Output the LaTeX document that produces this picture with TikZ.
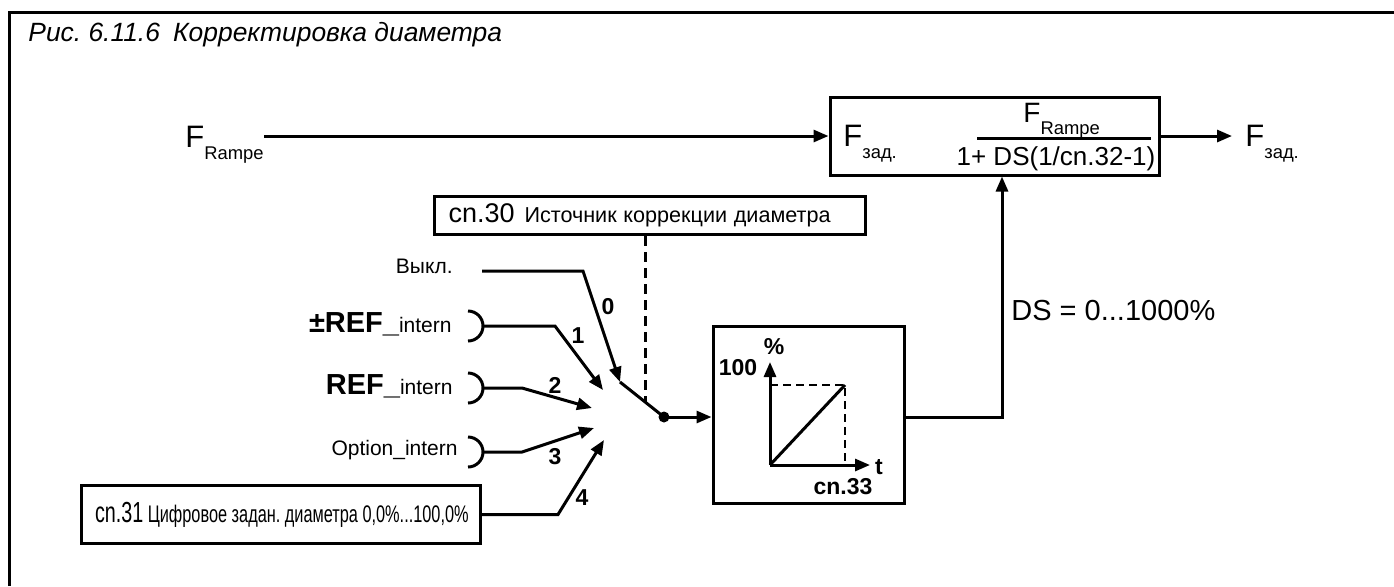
\documentclass[tikz,border=0pt]{standalone}
\usepackage{fontspec}
\setmainfont{Liberation Sans}
\usetikzlibrary{arrows.meta,positioning,calc}
\frenchspacing
\newcommand\dcsub[2]{#1\raisebox{-6pt}{\fontsize{9.2}{10}\selectfont #2}}
\newcommand\dcbigfont{\bfseries\fontsize{14.5}{16}\selectfont}
\tikzset{
  dcbox/.style={draw=black, line width=1.5pt, inner sep=0pt},
  dcedge/.style={-{Triangle[length=7.5pt,width=6pt]}, line width=1.5pt},
  dcwire/.style={line width=1.5pt},
  dcguide/.style={line width=1.5pt, dash pattern=on 5pt off 3pt},
  dcgrid/.style={line width=0.6pt, dash pattern=on 4pt off 2.5pt},
  dcsig/.style={font=\fontsize{15.5}{18}\selectfont, inner sep=0pt},
  dctext/.style={font=\fontsize{10.5}{12}\selectfont, inner sep=0pt},
  dcnum/.style={font=\bfseries\fontsize{11.5}{13}\selectfont, inner sep=0pt}
}

\begin{document}
\begin{tikzpicture}[x=0.5pt,y=-0.5pt]
  \useasboundingbox (0,0) rectangle (1394,586);
  % frame and title
  \draw[dcwire] (9,586) -- (9,12) -- (1394,12);
  \node[anchor=base west,inner sep=0pt,font=\itshape\fontsize{13.2}{15}\selectfont] (title) at (28,41)
    {Рис. 6.11.6\enspace Корректировка диаметра};

  % divider block
  \node[dcbox,minimum width=164.5pt,minimum height=39pt] (div) at (994.5,136) {};
  \node[dcsig,anchor=base west] (fset) at (843,146) {\dcsub{F}{зад.}};
  \node[anchor=base west,inner sep=0pt,font=\fontsize{14}{16}\selectfont] (num) at (1023,122) {\dcsub{F}{Rampe}};
  \node[anchor=base,inner sep=0pt,font=\fontsize{13}{15}\selectfont] (den) at (1056,165) {1+ DS(1/cn.32-1)};
  \draw[dcwire] (977,138) -- (1151,138);
  \node[dcsig,anchor=base east] (fin) at (264,147) {\dcsub{F}{Rampe}};
  \node[dcsig,anchor=base west,inner xsep=6.5pt] (fout) at (1232,146) {\dcsub{F}{зад.}};
  \draw[dcedge] (fin.east |- div.west) -- (div.west);
  \draw[dcedge] (div.east) -- (div.east -| fout.west);

  % source selector
  \node[dcbox,minimum height=19pt,text width=201.5pt,inner xsep=7pt,align=left,anchor=north west] (cp30) at (433,195)
    {{\fontsize{13.5}{14}\selectfont cn.30}\enspace{\fontsize{10.8}{13}\selectfont Источник коррекции диаметра}};
  \coordinate (guide) at (645,402);
  \draw[dcguide] (cp30.south -| guide) -- (guide);

  \node[dctext,anchor=base east] (off) at (453,273) {Выкл.};
  \node[dctext,anchor=base east] (pref) at (452,332) {{\dcbigfont ±REF\_}intern};
  \node[dctext,anchor=base east] (ref) at (453,394) {{\dcbigfont REF\_}intern};
  \node[dctext,anchor=base east] (opt) at (458,455) {Option\_intern};
  \node[dcbox,minimum height=29pt,text width=186pt,inner xsep=6.75pt,align=left,anchor=north west] (cp31) at (80,484)
    {\scalebox{0.68}[1]{{\fontsize{14.5}{16}\selectfont cn.31} {\fontsize{12}{14}\selectfont Цифровое задан. диаметра 0,0\%...100,0\%}}};

  \coordinate (a0) at (482,271);
  \foreach \y/\n in {326/1,388/2,452/3} {
    \draw[dcwire] (468,\y-15) arc[start angle=90,end angle=-90,radius=7.5pt];
    \coordinate (a\n) at (483,\y);
  }
  \coordinate (k0) at (620,382);
  \coordinate (k1) at (603,390);
  \coordinate (k2) at (592,408);
  \coordinate (k3) at (594,428);
  \coordinate (k4) at (604,440);
  \draw[dcedge] (a0) -- ++(101,0) -- (k0);
  \draw[dcedge] (a1) -- ++(72,0) -- (k1);
  \draw[dcedge] (a2) -- ++(39,0) -- (k2);
  \draw[dcedge] (a3) -- ++(39,0) -- (k3);
  \draw[dcedge] (cp31.east) -- ++(76,0) -- (k4);
  \node[dcnum] (n0) at (608,307) {0};
  \node[dcnum] (n1) at (578,336) {1};
  \node[dcnum] (n2) at (555,385) {2};
  \node[dcnum] (n3) at (555,457) {3};
  \node[dcnum] (n4) at (582,498) {4};

  \node[circle,fill=black,inner sep=0pt,minimum size=5.5pt] (pivot) at (664,417) {};
  \draw[dcwire] (k0) -- (pivot.center);

  % ramp
  \node[dcbox,minimum width=95.5pt,minimum height=88.5pt] (ramp) at (808.5,415) {};
  \draw[dcedge] (pivot.center) -- (pivot -| ramp.west);
  \coordinate (o) at (770,465);
  \draw[dcgrid] (770,385) -- (845,385) -- (845,465);
  \draw[dcedge] (o) -- (770,362);
  \draw[dcedge] (o) -- (870,465);
  \draw[dcwire] (o) -- (845,385);
  \node[dcnum] (pct) at (774,347) {\%};
  \node[dcnum] (hund) at (738,368) {100};
  \node[dcnum] (tt) at (879,467) {t};
  \node[dcnum] (cp33) at (843,487) {cn.33};

  \draw[dcedge] (pivot -| ramp.east) -| ([xshift=3.75pt]div.south);
  \node[anchor=base west,inner sep=0pt,font=\fontsize{14.5}{16}\selectfont] (ds) at (1011,320) {DS = 0...1000\%};
\end{tikzpicture}
\end{document}
